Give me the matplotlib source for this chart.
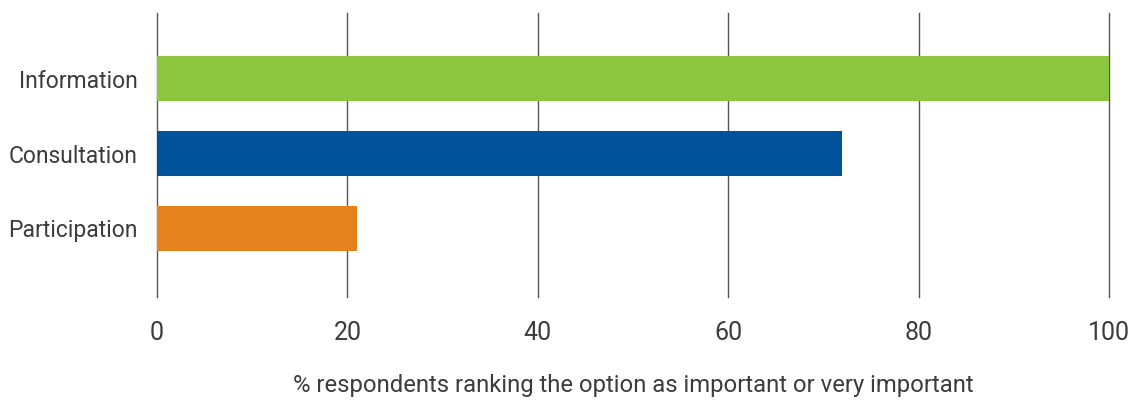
import matplotlib.pyplot as plt

# Survey results (% of respondents)
categories = ['Information', 'Consultation', 'Participation']
values = [100, 72, 21]
colors = ['#8cc63f', '#00529b', '#e6821e']
xticks = [0, 20, 40, 60, 80, 100]

plt.rcParams['font.family'] = ['Roboto', 'DejaVu Sans']
txt = '#3c3c3c'

fig = plt.figure(figsize=(11.4, 4.03), dpi=100)
ax = fig.add_axes([157 / 1140, 1 - 297 / 403, (1109 - 157) / 1140, (297 - 13) / 403])

ypos = list(range(len(categories)))
ax.barh(ypos, values, height=0.6, color=colors, zorder=3)

ax.set_xlim(0, 100)
ax.set_ylim(2.92, -0.88)
ax.set_xticks(xticks)
ax.set_xticklabels([str(t) for t in xticks], fontsize=18, color=txt)
ax.set_yticks(ypos)
ax.set_yticklabels(categories, fontsize=16.5, color=txt)
ax.tick_params(axis='x', length=0, pad=17)
ax.tick_params(axis='y', length=0, pad=14)

# vertical grid lines only
for t in xticks:
    ax.axvline(t, color='#555555', linewidth=1.0, zorder=1, clip_on=False)
for s in ax.spines.values():
    s.set_visible(False)

ax.set_xlabel('% respondents ranking the option as important or very important',
              fontsize=17.2, color=txt, labelpad=21)

fig.savefig('out.png', dpi=100)
